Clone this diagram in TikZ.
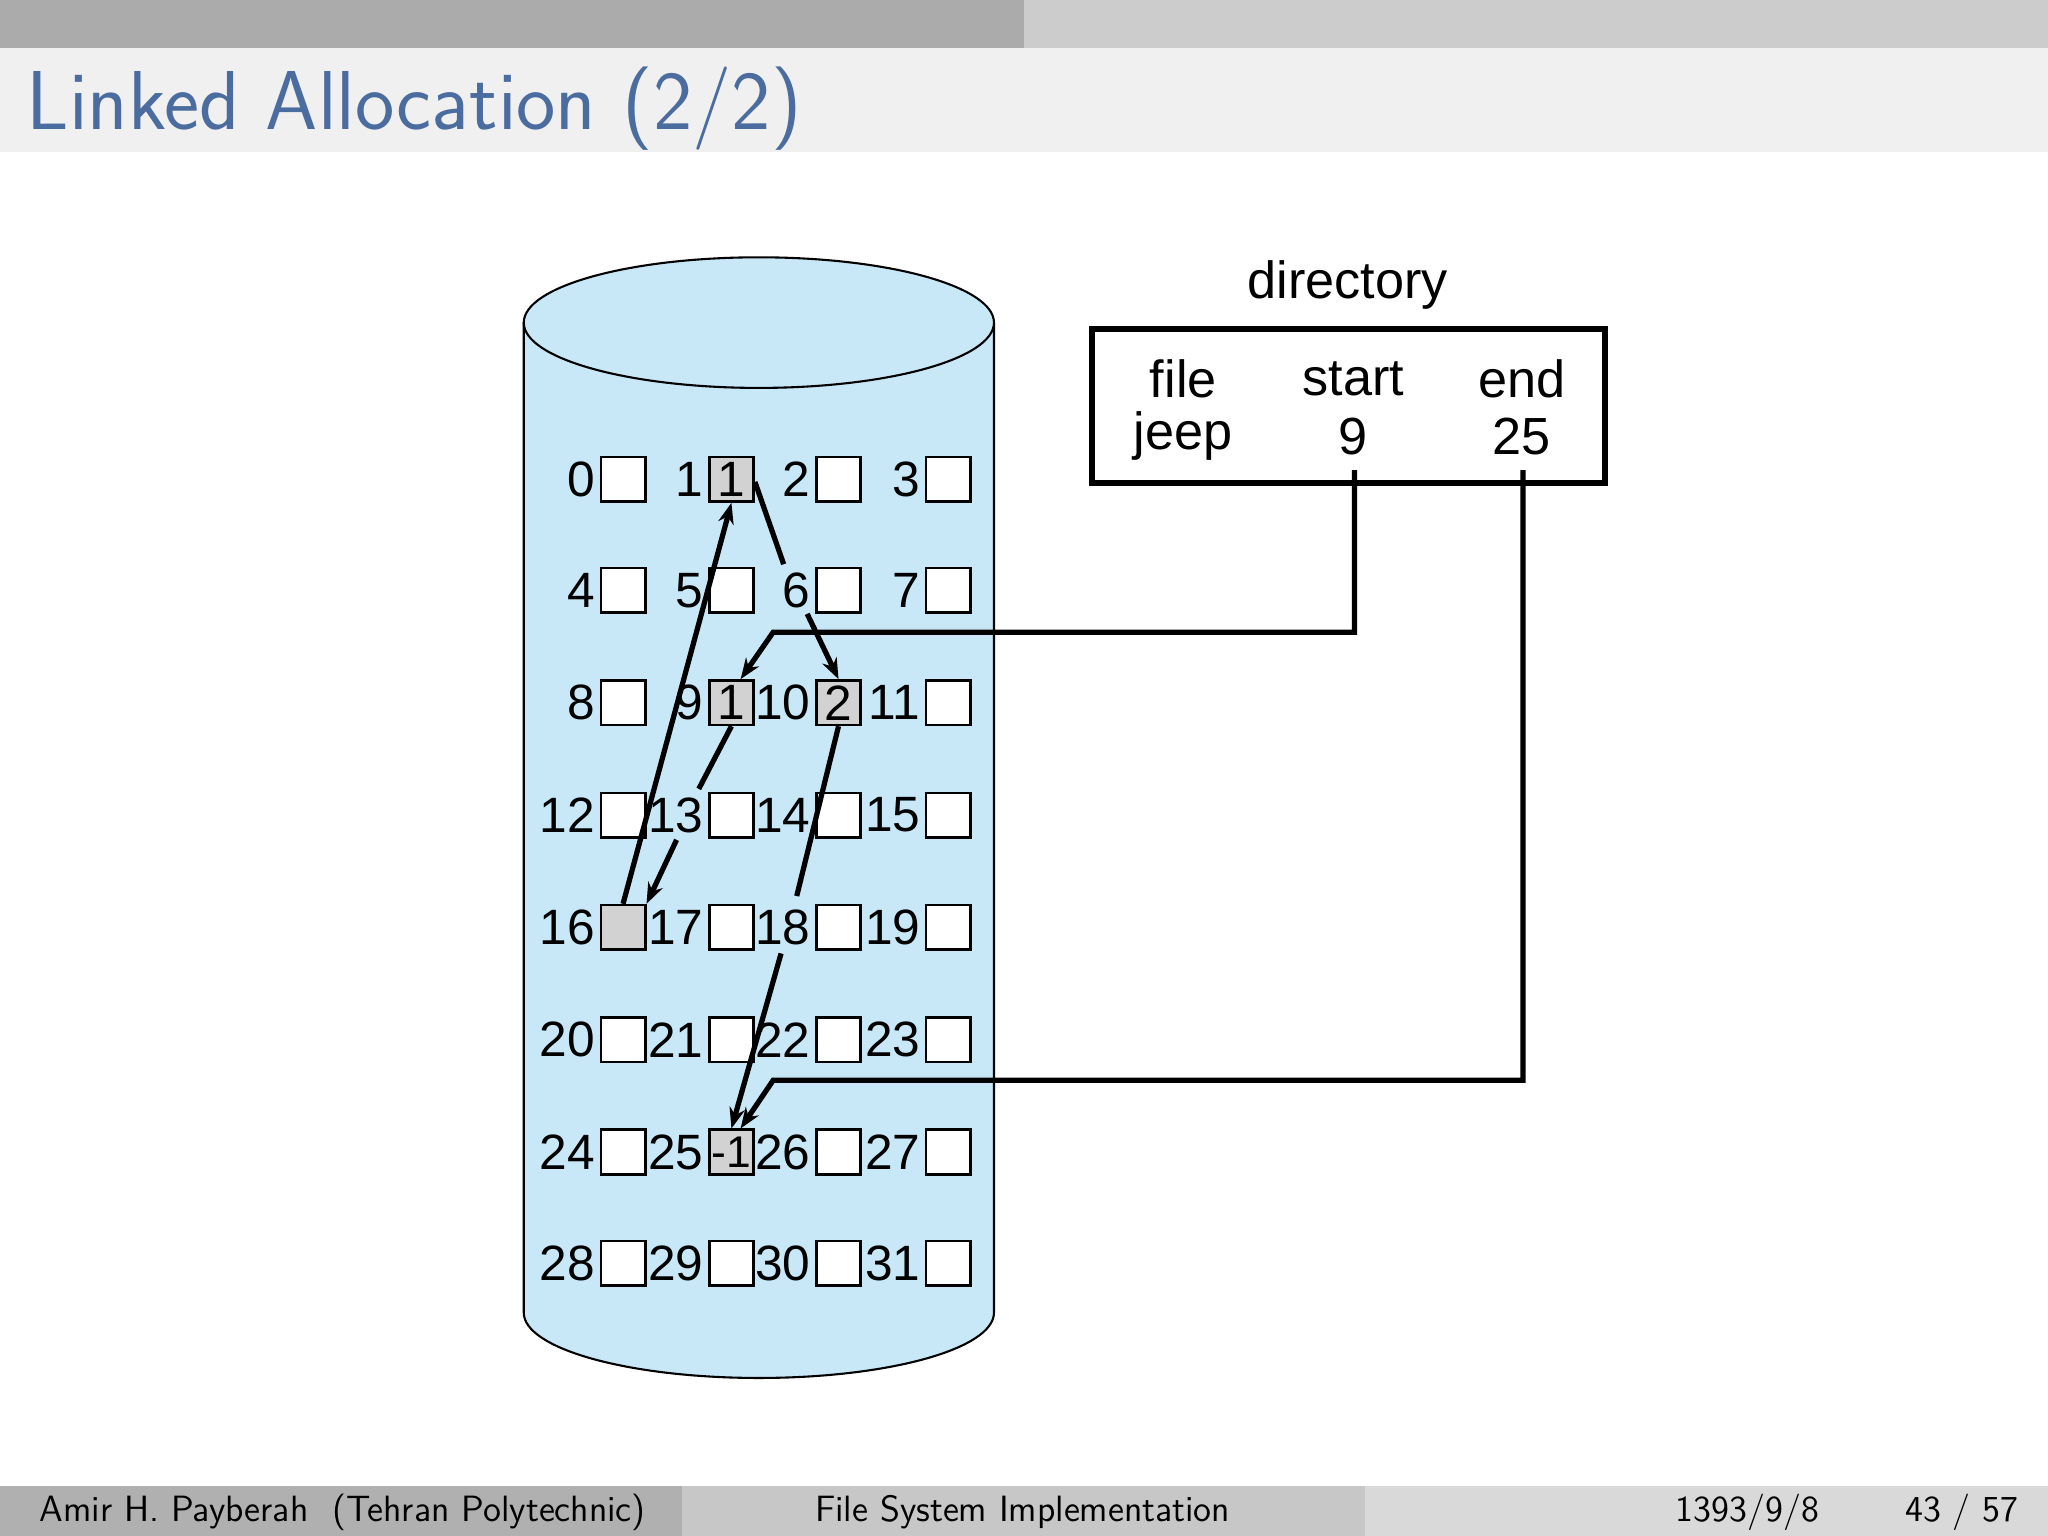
\documentclass[tikz,border=0pt]{standalone}
\usepackage{fontspec}
\newfontfamily\arial{Liberation Sans}
\usetikzlibrary{arrows.meta,calc}
\definecolor{titleblue}{HTML}{4A6C9E}
\definecolor{cyl}{HTML}{C8E8F8}
\tikzset{
 lbl/.style={font=\arial\fontsize{19}{19}\selectfont, anchor=east, inner sep=0pt},
 blk/.style={draw, line width=1pt, fill=white, minimum size=17pt, inner sep=0pt, font=\arial\fontsize{19}{19}\selectfont},
 used/.style={blk, fill=gray!35},
 dtxt/.style={font=\arial\fontsize{20}{20}\selectfont},
 ptr/.style={line width=2pt, -{Stealth[length=8pt,width=6pt]}},
 pl/.style={line width=2pt},
 foot/.style={font=\sffamily\fontsize{14}{14}\selectfont}
}
\begin{document}
\begin{tikzpicture}[x=0.5pt,y=-0.5pt]
\useasboundingbox (0,0) rectangle (1568,1176);
\fill[white] (0,0) rectangle (1568,1176);
\fill[black!33] (0,0) rectangle (784,37);
\fill[black!20] (784,0) rectangle (1568,37);
\fill[black!6] (0,37) rectangle (1568,116);
\node[anchor=base west, text=titleblue, font=\sffamily\fontsize{32}{32}\selectfont, inner sep=0pt] (title) at (20,99) {Linked Allocation (2/2)};
% footer
\fill[black!31] (0,1138) rectangle (522,1176);
\fill[black!22] (522,1138) rectangle (1045,1176);
\fill[black!15] (1045,1138) rectangle (1568,1176);
\node[foot, anchor=base west, inner sep=0pt] (f1) at (30,1165) {Amir H. Payberah\ \ (Tehran Polytechnic)};
\node[foot, anchor=base, inner sep=0pt] (f2) at (783,1165) {File System Implementation};
\node[foot, anchor=base, inner sep=0pt] (f3) at (1338,1165) {1393/9/8};
\node[foot, anchor=base, inner sep=0pt] (f4) at (1502,1165) {43 / 57};
% cylinder
\fill[cyl] (401,247) -- (401,1005) arc[start angle=180,end angle=360,x radius=180,y radius=-50] -- (761,247) -- cycle;
\draw[line width=0.8pt] (401,247) -- (401,1005) arc[start angle=180,end angle=360,x radius=180,y radius=-50] -- (761,247);
\draw[line width=0.8pt, fill=cyl] (581,247) ellipse[x radius=180, y radius=50];
% blocks
\foreach \r/\y in {0/367,1/452,2/538,3/624,4/710,5/796,6/882,7/967}{
 \foreach \c/\x in {0/477,1/560,2/642,3/726}{
  \pgfmathtruncatemacro\n{\r*4+\c}
  \node[blk] (b\n) at (\x,\y) {};
  \node[lbl] (l\n) at (\x-21,\y) {\n};
 }}
\node[used] at (b1) {1};
\node[used] at (b9) {1};
\node[used] at (b10) {2};
\node[used] at (b16) {};
\node[used, font=\arial\fontsize{17}{17}\selectfont] at (b25) {-1};
% chain arrows
\draw[pl] (b9.south) -- (535,604);
\draw[ptr] (518,643) -- (b16.north east);
\draw[ptr] (b16.north) -- (b1.south);
\draw[pl] (b1.east) ++(0,2) -- (600,432);
\draw[ptr] (618,470) -- (b10.north);
\draw[pl] (b10.south) -- (610,686);
\draw[ptr] (598,730) -- (b25.north);
% directory
\node[draw, line width=2.4pt, minimum width=196.5pt, minimum height=59pt] (dir) at (1032.5,311) {};
\node[dtxt] (dl) at (1032,218) {directory};
\node[dtxt] (h1) at (906,290) {file};
\node[dtxt] (h2) at (1036,290) {start};
\node[dtxt] (h3) at (1165,290) {end};
\node[dtxt] (v1) at (906,334) {jeep};
\node[dtxt] (v2) at (1036,334) {9};
\node[dtxt] (v3) at (1165,334) {25};
\coordinate (s0) at (1037,360);
\coordinate (e0) at (1166,360);
\draw[ptr] (s0) -- (1037,484) -- (592,484) -- ($(b9.north)+(7,0)$);
\draw[ptr] (e0) -- (1166,827) -- (592,827) -- ($(b25.north)+(7,0)$);
\end{tikzpicture}
\end{document}
